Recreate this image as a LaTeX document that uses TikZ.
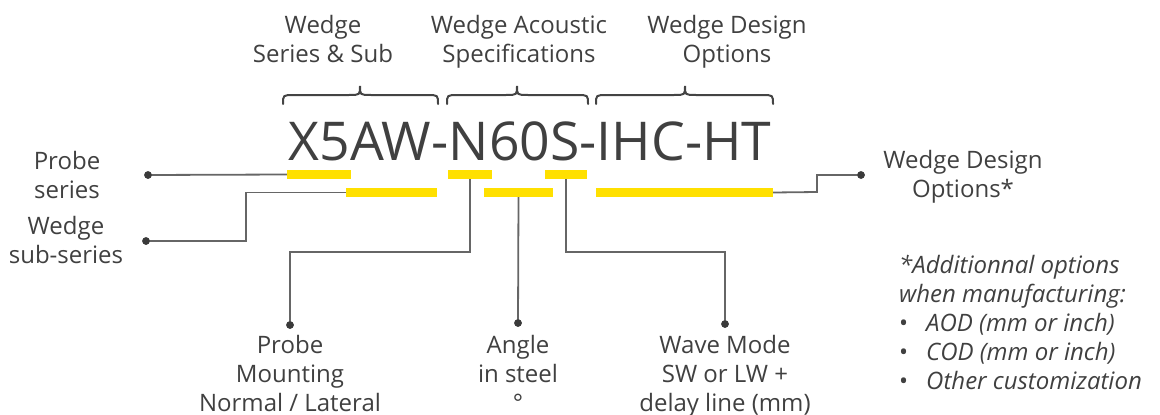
\documentclass[tikz,border=0pt]{standalone}
\usepackage{fontspec}
\setmainfont{Open Sans}
\definecolor{txt}{HTML}{404040}
\definecolor{lnc}{HTML}{666666}
\definecolor{dotc}{HTML}{3A3A3A}
\definecolor{ylw}{HTML}{FFE000}
\definecolor{brc}{HTML}{444444}
\begin{document}
\begin{tikzpicture}[x=1pt,y=-1pt,
  lbl/.style={font=\fontsize{24}{29}\selectfont, text=txt, anchor=north, inner sep=0pt, align=center},
  bar/.style={fill=ylw, draw=none, inner sep=0pt, minimum height=9pt, rectangle},
  conn/.style={draw=lnc, line width=1.8pt},
  dot/.style={circle, fill=dotc, inner sep=0pt, minimum size=7.5pt},
  brace/.style={draw=brc, line width=2pt, line cap=round}
]
\useasboundingbox (0,0) rectangle (1160,415);

% main code
\node[font=\fontsize{53.5}{60}\selectfont, text=txt, anchor=base, inner sep=0pt] (code) at (530,160) {X5AW-N60S-IHC-HT};

% braces
\foreach \a/\t/\b in {283/360/438, 447/517/588, 596/685/773}{
  \draw[brace] (\a,104) .. controls (\a,95) .. (\a+11,95) -- (\t-11,95)
     .. controls (\t,95) .. (\t,86) .. controls (\t,95) .. (\t+11,95)
     -- (\b-11,95) .. controls (\b,95) .. (\b,104);
}

% top labels
\node[lbl] (t1) at (323,15) {Wedge\\Series \& Sub};
\node[lbl] (t2) at (519,15) {Wedge Acoustic\\Specifications};
\node[lbl] (t3) at (727,15) {Wedge Design\\Options};

% yellow bars
\node[bar, minimum width=64pt]  (b1) at (319,174.5) {};
\node[bar, minimum width=91pt]  (b2) at (391.5,192.5) {};
\node[bar, minimum width=44pt]  (b3) at (470,174.5) {};
\node[bar, minimum width=69pt]  (b4) at (518.5,192.5) {};
\node[bar, minimum width=42pt]  (b5) at (566,174.5) {};
\node[bar, minimum width=177pt] (b6) at (684.5,192.5) {};

% dots
\node[dot] (dps) at (148,175) {};
\node[dot] (dss) at (146,241) {};
\node[dot] (dpm) at (290,325) {};
\node[dot] (dan) at (518,323) {};
\node[dot] (dwm) at (725,324) {};
\node[dot] (dwd) at (861,175) {};

% bend points
\coordinate (k1) at (246,241);
\coordinate (k2) at (470,252);
\coordinate (k3) at (566,252);
\coordinate (k4) at (817,192);

% connectors
\draw[conn] (dps.center) -- (b1.west);
\draw[conn] (dss.center) -- (k1) |- (b2.west);
\draw[conn] (b3.south) -- (k2) -| (dpm.center);
\draw[conn] (b4.south) -- (dan.center);
\draw[conn] (b5.south) -- (k3) -| (dwm.center);
\draw[conn] (b6.east) -- (k4) |- (dwd.center);
\node[dot] at (dps) {};
\node[dot] at (dss) {};
\node[dot] at (dpm) {};
\node[dot] at (dan) {};
\node[dot] at (dwm) {};
\node[dot] at (dwd) {};

% side labels
\node[lbl] (lps) at (67,151) {Probe\\series};
\node[lbl] (lss) at (66,216) {Wedge\\sub-series};
\node[lbl] (lwd) at (963,150) {Wedge Design\\Options*};

% bottom labels
\node[lbl] (lpm) at (290,335) {Probe\\Mounting\\Normal / Lateral};
\node[lbl] (lan) at (518,335) {Angle\\in steel\\°};
\node[lbl] (lwm) at (725,335) {Wave Mode\\SW or LW +\\delay line (mm)};

% footnote
\node[lbl, anchor=north west, align=left] (fn) at (899,255)
  {\textit{*Additionnal options}\\
   \textit{when manufacturing:}\\
   \makebox[27pt][l]{\textbullet}\textit{AOD (mm or inch)}\\
   \makebox[27pt][l]{\textbullet}\textit{COD (mm or inch)}\\
   \makebox[27pt][l]{\textbullet}\textit{Other customization}};
\end{tikzpicture}
\end{document}
